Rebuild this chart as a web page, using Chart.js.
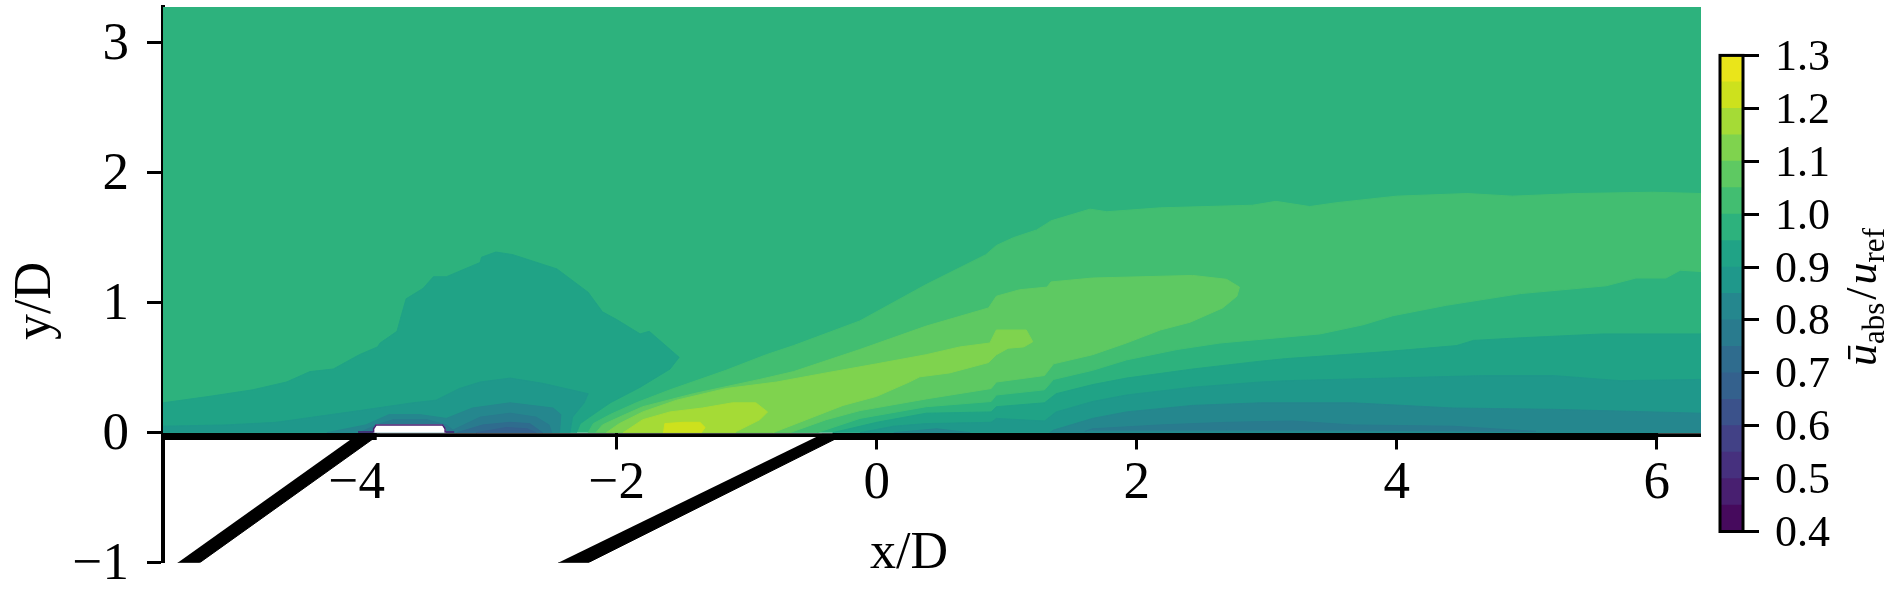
<!DOCTYPE html>
<html><head><meta charset="utf-8">
<style>html,body{margin:0;padding:0;background:#fff}
#wrap{position:relative;width:1889px;height:594px}
canvas{position:absolute;left:0;top:0}</style>
<script src="https://cdn.jsdelivr.net/npm/chart.js@4"></script>
</head><body><div id="wrap"><canvas id="main" width="1889" height="594"></canvas><canvas id="cbar" width="1889" height="594"></canvas></div>
<script>
const xTickValues=[-4,-2,0,2,4,6];
const yTickValues=[-1,0,1,2,3];
const cbTickValues=[0.4,0.5,0.6,0.7,0.8,0.9,1.0,1.1,1.2,1.3];
const levels=[0.4,0.45,0.5,0.55,0.6,0.65,0.7,0.75,0.8,0.85,0.9,0.95,1.0,1.05,1.1,1.15,1.2,1.25,1.3];
const bandColors=['#460a5d','#481f70','#46307e','#424186','#3b528b','#34618d','#2f6c8e','#297b8e','#25878e','#1f988b','#20a386','#2db27d','#42be71','#5ec962','#7fd34e','#a5db36','#cde11d','#eae51a'];

// filled contour outlines, [x/D, y/D]; each is named after the lower/upper level of the region
const above095=[[-5.49,0],[-5.49,3.28],[6.34,3.28],[6.34,0]];
const above100=[[-2.22,0],[-2.18,0.07],[-2.05,0.14],[-1.85,0.23],[-1.59,0.33],[-1.16,0.48],[-0.85,0.6],[-0.64,0.67],[-0.13,0.86],[0.38,1.14],[0.84,1.37],[0.92,1.44],[1.05,1.5],[1.23,1.56],[1.31,1.61],[1.34,1.63],[1.64,1.72],[1.77,1.7],[2.18,1.73],[2.89,1.75],[3.07,1.78],[3.33,1.74],[3.54,1.77],[4,1.82],[4.54,1.84],[4.89,1.82],[5.38,1.84],[5.97,1.85],[6.34,1.84],[6.34,1.24],[6.18,1.25],[6.07,1.19],[5.84,1.19],[5.61,1.13],[4.95,1.07],[4.38,0.98],[3.97,0.9],[3.74,0.83],[3.41,0.76],[2.64,0.69],[2.31,0.64],[1.92,0.56],[1.66,0.48],[1.36,0.41],[1.29,0.33],[0.92,0.29],[0.88,0.24],[0.38,0.2],[-0.13,0.11],[-0.46,0]];
const above105=[[-2.16,0],[-2.11,0.06],[-1.98,0.12],[-1.8,0.2],[-1.41,0.3],[-0.9,0.41],[-0.64,0.47],[-0.13,0.64],[0.38,0.82],[0.86,0.96],[0.92,1.05],[1.1,1.1],[1.31,1.12],[1.34,1.16],[1.66,1.19],[2.43,1.21],[2.69,1.18],[2.79,1.12],[2.77,1.05],[2.66,0.96],[2.41,0.85],[2.18,0.79],[1.92,0.69],[1.66,0.6],[1.36,0.53],[1.29,0.44],[0.92,0.39],[0.88,0.34],[0.38,0.26],[-0.13,0.17],[-0.39,0.1],[-0.67,0]];
const above110=[[-2.08,0],[-1.98,0.07],[-1.8,0.16],[-1.54,0.25],[-1.16,0.34],[-0.77,0.39],[-0.39,0.46],[0,0.53],[0.38,0.6],[0.64,0.66],[0.87,0.69],[0.92,0.79],[1.15,0.79],[1.2,0.7],[1.13,0.66],[1.01,0.65],[0.92,0.6],[0.86,0.54],[0.56,0.46],[0.33,0.43],[0.25,0.39],[0,0.28],[-0.26,0.21],[-0.8,0]];
const above115=[[-1.95,0],[-1.8,0.1],[-1.59,0.16],[-1.34,0.19],[-1.11,0.23],[-0.93,0.23],[-0.84,0.16],[-0.9,0.1],[-1.08,0.01],[-1.09,0]];
const above120=[[-1.64,0],[-1.63,0.07],[-1.49,0.08],[-1.36,0.08],[-1.32,0.04],[-1.35,0]];
const below095Left=[[-5.49,0],[-5.49,0.23],[-5.13,0.28],[-4.8,0.33],[-4.54,0.39],[-4.36,0.47],[-4.18,0.49],[-3.98,0.6],[-3.84,0.66],[-3.82,0.69],[-3.69,0.78],[-3.66,0.89],[-3.62,1.03],[-3.49,1.11],[-3.41,1.2],[-3.31,1.2],[-3.05,1.31],[-3.04,1.35],[-2.93,1.39],[-2.8,1.37],[-2.46,1.26],[-2.22,1.08],[-2.11,0.93],[-2,0.87],[-1.82,0.76],[-1.75,0.78],[-1.52,0.58],[-1.59,0.49],[-1.82,0.35],[-2.05,0.23],[-2.21,0.12],[-2.28,0.07],[-2.31,0]];
const below095Right=[[-0.34,0],[0,0.08],[0.38,0.15],[0.88,0.16],[0.92,0.2],[1.29,0.23],[1.38,0.3],[1.66,0.37],[1.92,0.42],[2.43,0.49],[2.95,0.55],[3.15,0.57],[3.87,0.62],[4.46,0.67],[4.59,0.71],[4.95,0.73],[5.59,0.76],[6.34,0.76],[6.34,0]];
const below090Left=[[-5.49,0],[-5.49,0.05],[-5,0.06],[-4.62,0.08],[-3.98,0.17],[-3.57,0.23],[-3.39,0.25],[-3.21,0.34],[-3.05,0.39],[-2.82,0.42],[-2.57,0.38],[-2.22,0.3],[-2.25,0.23],[-2.34,0.12],[-2.36,0]];
const below090Right=[[-0.13,0],[0.13,0.05],[0.38,0.07],[0.88,0.08],[0.92,0.11],[1.29,0.09],[1.38,0.16],[1.66,0.24],[1.92,0.29],[2.43,0.35],[2.95,0.39],[3.15,0.4],[3.92,0.42],[4.69,0.44],[5.2,0.44],[5.72,0.4],[6.34,0.41],[6.34,0]];
const below085Left=[[-4.23,0],[-3.93,0.06],[-3.75,0.14],[-3.52,0.14],[-3.31,0.11],[-3.11,0.19],[-2.82,0.23],[-2.49,0.19],[-2.43,0.14],[-2.44,0]];
const below085Right=[[1.33,0],[1.36,0.02],[1.46,0.05],[1.66,0.11],[1.92,0.16],[2.43,0.21],[2.95,0.23],[3.66,0.23],[4.43,0.19],[5.2,0.18],[6.34,0.15],[6.34,0]];
const below085Bump=[[0.13,0],[0.46,0.03],[0.72,0]];
const below080Left=[[-3.98,0],[-3.85,0.06],[-3.72,0.1],[-3.46,0.1],[-3.31,0.06],[-3.26,0.02],[-3.05,0.12],[-2.82,0.15],[-2.62,0.12],[-2.52,0.06],[-2.5,0]];
const below080Right=[[1.6,0.01],[1.66,0.03],[2.18,0.06],[2.69,0.08],[3.2,0.09],[3.66,0.06],[4.43,0.05],[5.07,0.01],[3.66,0.02],[2.69,0.02],[1.66,0.02]];
const below075Left=[[-3.23,0],[-3.03,0.06],[-2.82,0.08],[-2.67,0.07],[-2.57,0]];
const below070Left=[[-3.08,0],[-2.85,0.04],[-2.69,0.03],[-2.62,0]];
const solidBump=[[-3.87,0],[-3.87,0.03],[-3.85,0.06],[-3.34,0.06],[-3.32,0.03],[-3.32,0]];
const solidBumpEdge=[[-3.99,0.005],[-3.87,0.005],[-3.87,0.03],[-3.85,0.06],[-3.34,0.06],[-3.32,0.03],[-3.32,0.005],[-3.25,0.005]];
const pipeUpstream=[[-5.377,-1],[-5.208,-1],[-3.825,-0.012],[-3.99,-0.012]];
const pipeDownstream=[[-2.45,-1],[-2.22,-1],[-0.246,-0.012],[-0.423,-0.012]];
const wallUpstream=[[-5.49,-0.029],[-3.846,-0.029]];
const wallDownstream=[[-0.34,-0.029],[6.01,-0.029]];
const floorLine=[[-5.49,-0.019],[6.34,-0.019]];

const FONT='"Liberation Serif","Times New Roman",serif';
const TICK_SIZE=53, CB_TICK_SIZE=44, LABEL_SIZE=52;
const pts=a=>a.map(p=>({x:p[0],y:p[1]}));
const region=(a,color)=>({data:pts(a),showLine:true,fill:'shape',backgroundColor:color,borderColor:color,borderWidth:1,pointRadius:0});
const stroke=(a,color,w)=>({data:pts(a),showLine:true,fill:false,borderColor:color,borderWidth:w,pointRadius:0,clip:false});
const layers=[
 region(above095,bandColors[11]),
 region(above100,bandColors[12]),region(above105,bandColors[13]),region(above110,bandColors[14]),region(above115,bandColors[15]),region(above120,bandColors[16]),
 region(below095Left,bandColors[10]),region(below095Right,bandColors[10]),
 region(below090Left,bandColors[9]),region(below090Right,bandColors[9]),
 region(below085Left,bandColors[8]),region(below085Right,bandColors[8]),region(below085Bump,bandColors[8]),
 region(below080Left,bandColors[7]),region(below080Right,bandColors[7]),
 region(below075Left,bandColors[6]),region(below070Left,bandColors[5]),
 region(solidBump,'#ffffff'),
 stroke(solidBumpEdge,bandColors[1],1.5),
 region(pipeUpstream,'#000000'),region(pipeDownstream,'#000000'),
 stroke(wallUpstream,'#000',7),stroke(wallDownstream,'#000',7),stroke(floorLine,'#000',3.7)
];
const minus=v=>String(v).replace('-','\u2212');
const axisTexts={id:'axisTexts',afterDraw(c){const g=c.ctx;g.save();g.fillStyle='#000';g.textBaseline='alphabetic';g.textAlign='center';
 g.font=LABEL_SIZE+'px '+FONT;
 g.fillText('x/D',909,568);
 g.translate(50,301);g.rotate(-Math.PI/2);g.fillText('y/D',0,0);g.restore();}};
new Chart(document.getElementById('main'),{type:'scatter',data:{datasets:layers.slice().reverse()},
 plugins:[axisTexts],
 options:{responsive:false,animation:false,events:[],layout:{padding:{left:0,right:188,top:7,bottom:31.3}},
 plugins:{legend:{display:false},tooltip:{enabled:false},title:{display:false}},
 scales:{
  x:{type:'linear',min:-5.49,max:6.34,position:{y:0},border:{display:false},
     grid:{drawOnChartArea:false,drawTicks:true,tickLength:16.5,tickWidth:3,tickColor:'#000'},
     afterFit(s){s.paddingLeft=0;s.paddingRight=0;},
     afterBuildTicks(s){s.ticks=xTickValues.map(v=>({value:v}));},
     ticks:{autoSkip:false,maxRotation:0,padding:3,color:'#000',font:{family:FONT,size:TICK_SIZE},callback:minus}},
  y:{type:'linear',min:-1,max:3.275,position:'left',border:{display:true,width:4,color:'#000'},
     grid:{drawOnChartArea:false,drawTicks:true,tickLength:16,tickWidth:3,tickColor:'#000'},
     afterFit(s){s.width=163;s.paddingTop=0;s.paddingBottom=0;},
     afterBuildTicks(s){s.ticks=yTickValues.map(v=>({value:v}));},
     ticks:{autoSkip:false,padding:18,labelOffset:2,color:'#000',font:{family:FONT,size:TICK_SIZE},callback:minus}}
 }}});

const cbTexts={id:'cbTexts',afterDraw(c){const g=c.ctx,a=c.chartArea;
 g.save();g.strokeStyle='#000';g.lineWidth=3;g.strokeRect(a.left,a.top,a.right-a.left,a.bottom-a.top);g.restore();
 g.save();g.fillStyle='#000';g.textBaseline='alphabetic';g.textAlign='left';g.translate(1876,366);g.rotate(-Math.PI/2);
 const parts=[['\u016B','italic',44,0],['abs','',31,8],['/','',44,0],['u','italic',44,0],['ref','',31,8]];
 let x=0;for(const [t,st,sz,dy] of parts){g.font=(st?st+' ':'')+sz+'px '+FONT;g.fillText(t,x,dy);x+=g.measureText(t).width+(t==='/'?3:0);if(t==='abs')x+=3;}
 g.restore();}};
new Chart(document.getElementById('cbar'),{type:'bar',
 data:{labels:['scale'],datasets:bandColors.map((col,i)=>({data:[[levels[i],levels[i+1]]],backgroundColor:col,barPercentage:1,categoryPercentage:1,grouped:false}))},
 plugins:[cbTexts],
 options:{responsive:false,animation:false,events:[],layout:{padding:{left:1720,right:0,top:55.4,bottom:62.5}},
 plugins:{legend:{display:false},tooltip:{enabled:false}},
 scales:{x:{display:false},
  y:{min:0.4,max:1.3,position:'right',border:{display:false},
     grid:{drawOnChartArea:false,drawTicks:true,tickLength:16,tickWidth:3,tickColor:'#000'},
     afterFit(s){s.width=146;},
     afterBuildTicks(s){s.ticks=cbTickValues.map(v=>({value:v}));},
     ticks:{autoSkip:false,padding:16,labelOffset:3,color:'#000',font:{family:FONT,size:CB_TICK_SIZE},callback:v=>v.toFixed(1)}}
 }}});
</script></body></html>
